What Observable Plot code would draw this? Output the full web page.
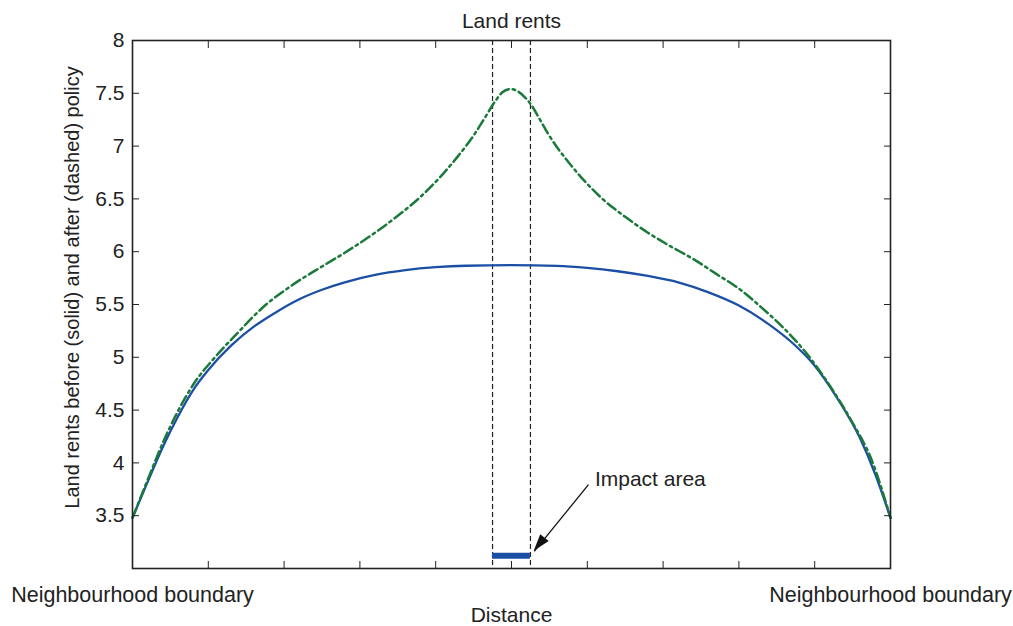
<!DOCTYPE html>
<html>
<head>
<meta charset="utf-8">
<script src="https://cdn.jsdelivr.net/npm/d3@7"></script>
<script src="https://cdn.jsdelivr.net/npm/@observablehq/plot@0.6"></script>
<style>
  html, body { margin: 0; padding: 0; background: #fff; }
  #chart svg { display: block; }
</style>
</head>
<body>
<div id="chart"></div>
<script>
// Distance (0 = left boundary, 1 = right boundary)
const beforeX = [0, 0.02, 0.04, 0.06, 0.08, 0.10, 0.13, 0.16, 0.19, 0.22, 0.25, 0.28, 0.32, 0.36, 0.40, 0.44, 0.50, 0.56, 0.60, 0.64, 0.68, 0.72, 0.76, 0.80, 0.84, 0.87, 0.90, 0.93, 0.96, 0.98, 1.0];
const beforeRent = [3.48, 3.82, 4.15, 4.44, 4.69, 4.88, 5.11, 5.29, 5.43, 5.55, 5.64, 5.71, 5.78, 5.825, 5.853, 5.867, 5.872, 5.866, 5.847, 5.815, 5.77, 5.71, 5.615, 5.49, 5.31, 5.14, 4.92, 4.61, 4.23, 3.89, 3.48];

const afterX = [0, 0.02, 0.04, 0.06, 0.08, 0.11, 0.14, 0.17, 0.21, 0.25, 0.28, 0.32, 0.35, 0.38, 0.41, 0.43, 0.45, 0.465, 0.478, 0.488, 0.498, 0.508, 0.518, 0.527, 0.536, 0.548, 0.56, 0.575, 0.595, 0.62, 0.65, 0.68, 0.71, 0.74, 0.77, 0.80, 0.83, 0.86, 0.89, 0.92, 0.95, 0.975, 1.0];
const afterRent = [3.48, 3.84, 4.19, 4.49, 4.74, 5.01, 5.24, 5.46, 5.68, 5.86, 5.99, 6.18, 6.34, 6.52, 6.74, 6.91, 7.10, 7.27, 7.42, 7.51, 7.54, 7.52, 7.46, 7.38, 7.27, 7.12, 6.99, 6.85, 6.68, 6.50, 6.33, 6.18, 6.05, 5.93, 5.79, 5.65, 5.47, 5.27, 5.03, 4.73, 4.38, 4.03, 3.48];

// Impact area
const impactStart = 0.475;
const impactEnd = 0.525;
const impactLevel = 3.12;

// Ticks and labels
const xTicks = [0, 0.1, 0.2, 0.3, 0.4, 0.5, 0.6, 0.7, 0.8, 0.9, 1.0];
const yTicks = [3.5, 4, 4.5, 5, 5.5, 6, 6.5, 7, 7.5, 8];
const xEndTicks = [0, 1];
const xEndLabels = ["Neighbourhood boundary", "Neighbourhood boundary"];
const titleText = "Land rents";
const xLabelText = "Distance";
const yLabelText = "Land rents before (solid) and after (dashed) policy";
const annotationText = "Impact area";

// Annotation anchor (data coordinates)
const annotation = {x: 0.61, y: 3.845};
const arrowFrom = {x: 0.6016, y: 3.794};
const arrowTo = {x: 0.530, y: 3.163};

const before = beforeX.map((x, i) => ({x, rent: beforeRent[i]}));
const after = afterX.map((x, i) => ({x, rent: afterRent[i]}));

const BLUE = "#1a4fa5";
const GREEN = "#1b7a3a";
const INK = "#222";
const FONT = "Arial, 'Liberation Sans', Helvetica, sans-serif";
const FS = 21;

function arrowHead(index, scales) {
  const x0 = scales.x(arrowFrom.x), y0 = scales.y(arrowFrom.y);
  const x1 = scales.x(arrowTo.x), y1 = scales.y(arrowTo.y);
  const dx = x1 - x0, dy = y1 - y0, len = Math.hypot(dx, dy);
  const ux = dx / len, uy = dy / len;
  const L = 17, W = 5.5;
  const bx = x1 - ux * L, by = y1 - uy * L;
  const pts = [[x1, y1], [bx - uy * W, by + ux * W], [bx + uy * W, by - ux * W]];
  return d3.create("svg:polygon")
    .attr("points", pts.map(p => p.join(",")).join(" "))
    .attr("fill", "#111")
    .node();
}

const chart = Plot.plot({
  width: 1013,
  height: 626,
  marginLeft: 132,
  marginRight: 123,
  marginTop: 40,
  marginBottom: 58,
  style: {fontFamily: FONT, fontSize: FS + "px", color: INK, background: "#fff"},
  x: {domain: [0, 1]},
  y: {domain: [3, 8]},
  marks: [
    // vertical dashed lines bounding the impact area
    Plot.ruleX([impactStart, impactEnd], {stroke: INK, strokeWidth: 1.2, strokeDasharray: "5,3"}),
    // rents before (solid)
    Plot.line(before, {x: "x", y: "rent", stroke: BLUE, strokeWidth: 2.3, curve: "monotone-x"}),
    // rents after (dash-dot)
    Plot.line(after, {x: "x", y: "rent", stroke: GREEN, strokeWidth: 2.5, strokeDasharray: "10,4,2.5,4", curve: "monotone-x"}),
    // impact area bar
    Plot.ruleY([impactLevel], {x1: impactStart, x2: impactEnd, stroke: BLUE, strokeWidth: 6}),
    // annotation arrow
    Plot.link([arrowFrom], {x1: d => d.x, y1: d => d.y, x2: arrowTo.x, y2: arrowTo.y, stroke: "#111", strokeWidth: 1.3}),
    arrowHead,
    Plot.text([annotation], {x: "x", y: "y", text: () => annotationText, textAnchor: "start", lineAnchor: "middle", fontSize: FS, fill: INK}),
    // axes: inward ticks on all four sides
    Plot.axisX({anchor: "bottom", ticks: xTicks, tickSize: -7, tickFormat: () => "", label: null, stroke: INK}),
    Plot.axisX({anchor: "top", ticks: xTicks, tickSize: -7, tickFormat: () => "", label: null, stroke: INK}),
    Plot.axisY({anchor: "left", ticks: yTicks, tickSize: -7, tickFormat: () => "", label: null, stroke: INK}),
    Plot.axisY({anchor: "right", ticks: yTicks, tickSize: -7, tickFormat: () => "", label: null, stroke: INK}),
    // tick labels
    Plot.axisY({anchor: "left", ticks: yTicks, tickSize: 0, tickPadding: 8, tickFormat: d => String(d), label: null, fontSize: FS, fill: INK}),
    Plot.axisX({anchor: "bottom", ticks: xEndTicks, tickSize: 0, tickPadding: 17.8, tickFormat: (d, i) => xEndLabels[i], label: null, fontSize: 21.5, fill: INK}),
    // frame
    Plot.frame({stroke: INK, strokeWidth: 1.6}),
    // title and axis labels
    Plot.text([titleText], {frameAnchor: "top", dy: -19.7, text: d => d, fontSize: FS, fill: INK, lineAnchor: "middle", textAnchor: "middle"}),
    Plot.text([xLabelText], {frameAnchor: "bottom", dy: 46.5, text: d => d, fontSize: FS, fill: INK, lineAnchor: "middle", textAnchor: "middle"}),
    Plot.text([yLabelText], {frameAnchor: "left", dx: -60, dy: -17, rotate: -90, text: d => d, fontSize: 20, fill: INK, lineAnchor: "middle", textAnchor: "middle"})
  ]
});

document.getElementById("chart").appendChild(chart);
</script>
</body>
</html>
